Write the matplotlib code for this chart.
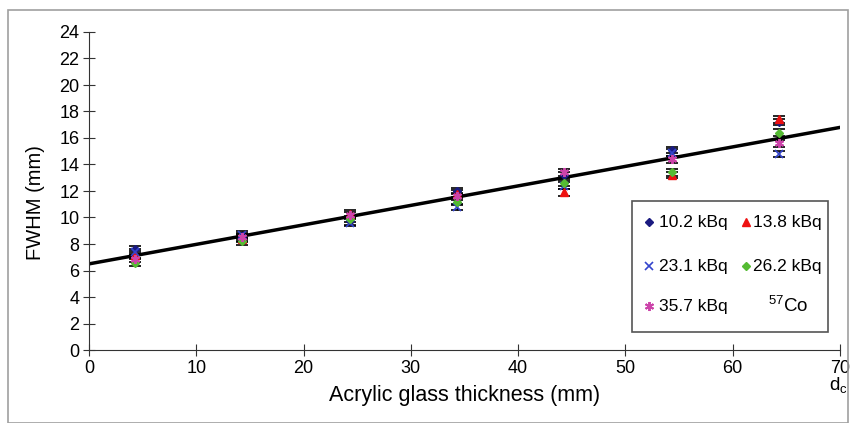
import matplotlib
matplotlib.use("Agg")
import matplotlib.pyplot as plt
import numpy as np
from matplotlib.patches import Rectangle

plt.rcParams['font.family'] = ['Liberation Sans', 'DejaVu Sans']

thickness = [4.3, 14.3, 24.3, 34.3, 44.3, 54.3, 64.3]
fwhm_10_2 = [7.6, 8.6, 9.7, 12.0, 13.2, 15.1, 17.2]
fwhm_13_8 = [7.2, 8.4, 10.3, 11.8, 11.9, 13.2, 17.4]
fwhm_23_1 = [7.4, 8.7, 9.6, 10.8, 12.4, 14.9, 14.8]
fwhm_26_2 = [6.6, 8.2, 9.9, 11.2, 12.6, 13.4, 16.4]
fwhm_35_7 = [6.9, 8.5, 10.2, 11.6, 13.4, 14.4, 15.6]
err = [0.25, 0.25, 0.25, 0.25, 0.25, 0.25, 0.25]
fit_x = [0, 70]
fit_y = [6.5, 16.8]
labels = ["10.2 kBq", "13.8 kBq", "23.1 kBq", "26.2 kBq", "35.7 kBq"]

styles = [
    dict(marker='D', color='#1a1a80', ms=4.5),
    dict(marker='^', color='#ee1111', ms=5.5),
    dict(marker='x', color='#3344cc', ms=5.5, mew=1.2),
    dict(marker='D', color='#55bb33', ms=4.5),
    dict(marker=(6, 2, 0), color='#cc44aa', ms=6.5, mew=1.4),
]
values = [fwhm_10_2, fwhm_13_8, fwhm_23_1, fwhm_26_2, fwhm_35_7]

fig = plt.figure(figsize=(8.57, 4.23), dpi=100)
ax = fig.add_axes([89/857, 1-350/423, (840-89)/857, (350-32)/423])

# outer frame
fig.patches.append(Rectangle((8/857, 0), (848-8)/857, 1-10/423, transform=fig.transFigure,
                             fill=False, edgecolor='#a0a0a0', lw=1.2))

ax.plot(fit_x, fit_y, color='black', lw=2.5, zorder=2)

for vals, st in zip(values, styles):
    ax.errorbar(thickness, vals, yerr=err, fmt='none', ecolor='black', elinewidth=1,
                capsize=4.5, capthick=1.2, zorder=3)
    ax.plot(thickness, vals, linestyle='none', zorder=4, **st)

ax.set_xlim(0, 70)
ax.set_ylim(0, 24)
ax.set_xticks(np.arange(0, 71, 10))
ax.set_yticks(np.arange(0, 25, 2))
ax.spines['top'].set_visible(False)
ax.spines['right'].set_visible(False)
for s in ['left', 'bottom']:
    ax.spines[s].set_color('#333333')
ax.tick_params(axis='both', labelsize=13, direction='inout', length=8, color='#333333', pad=3)
ax.set_xlabel('Acrylic glass thickness (mm)', fontsize=15.5, labelpad=6)
ax.set_ylabel('FWHM (mm)', fontsize=14.5)
ax.yaxis.set_label_coords(-0.058, 0.465)

fig.text(838/857, 1-385/423, r'$\mathregular{d_c}$', fontsize=13.5, ha='center', va='center')

# legend box (drawn in axes coordinates)
ax.add_patch(Rectangle((0.723, 0.0566), 0.261, 0.4124, transform=ax.transAxes,
                       fill=True, facecolor='white', edgecolor='#555555', lw=1.2, zorder=5))
rows = [0.4025, 0.264, 0.138]
pos = [(0, 0), (1, 0), (0, 1), (1, 1), (0, 2)]
col_marker = [0.7457, 0.8745]
col_text = [0.7595, 0.8845]
for (c, r), lab, st in zip(pos, labels, styles):
    ax.plot([col_marker[c]], [rows[r]], transform=ax.transAxes, linestyle='none',
            zorder=6, clip_on=False, **st)
    ax.text(col_text[c], rows[r], lab, transform=ax.transAxes, fontsize=12.5,
            ha='left', va='center', zorder=6)
ax.text(0.904, rows[2], r'$\mathregular{^{57}}$Co', transform=ax.transAxes, fontsize=13.5,
        ha='left', va='center', zorder=6)

fig.savefig('out.png', dpi=100)
